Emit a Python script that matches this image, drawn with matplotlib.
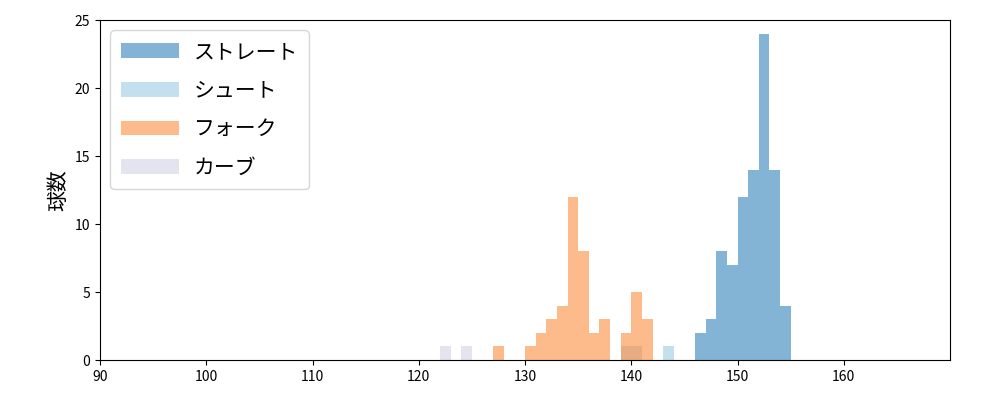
import numpy as np
import matplotlib.pyplot as plt

plt.rcParams['font.family'] = ['Noto Sans CJK JP', 'DejaVu Sans']

# pitch speeds (km/h)
straight = [146]*2 + [147]*3 + [148]*8 + [149]*7 + [150]*12 + [151]*14 + [152]*24 + [153]*14 + [154]*4
shoot = [139, 140, 143]
fork = [127] + [130]*1 + [131]*2 + [132]*3 + [133]*4 + [134]*12 + [135]*8 + [136]*2 + [137]*3 + [139]*2 + [140]*5 + [141]*3
curve = [122, 124]

names = ['ストレート', 'シュート', 'フォーク', 'カーブ']
series = [straight, shoot, fork, curve]
colors = ['#1f77b4', '#9ecae1', '#fd8d3c', '#bcbddc']
alphas = [0.55, 0.6, 0.6, 0.4]

fig, ax = plt.subplots(figsize=(10, 4), dpi=100)
bins = np.arange(90, 171, 1)
for vals, name, c, a in zip(series, names, colors, alphas):
    ax.hist(vals, bins=bins, color=c, alpha=a, label=name)

ax.set_xlim(90, 170)
ax.set_ylim(0, 25)
ax.set_xticks(range(90, 170, 10))
ax.set_ylabel('球数', fontsize=15)
ax.legend(loc='upper left', fontsize=15, labelspacing=0.8, handlelength=2.8,
          handletextpad=0.7, borderpad=0.5)
plt.subplots_adjust(left=0.1, right=0.95, top=0.95, bottom=0.1)
plt.savefig('out.png')
